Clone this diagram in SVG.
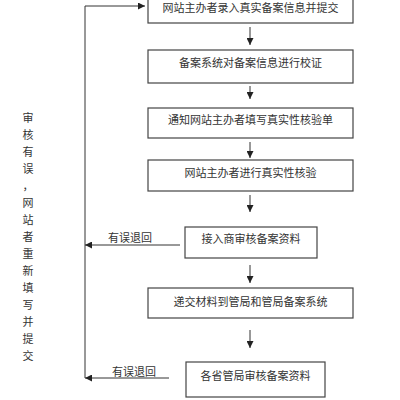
<svg xmlns="http://www.w3.org/2000/svg" width="400" height="400" viewBox="0 0 400 400">
<style>
.box{fill:#fff;stroke:#444;stroke-width:1.2}
.t{font-family:"Noto Sans CJK SC","Noto Sans",sans-serif;font-size:11px;fill:#333;text-anchor:middle}
.c{stroke:#333;stroke-width:1;fill:none}
</style>
<defs>
<marker id="ah" viewBox="0 0 10 10" refX="10" refY="5" markerWidth="7" markerHeight="7" markerUnits="userSpaceOnUse" orient="auto">
<path d="M0,0 L10,5 L0,10 z" fill="#222"/>
</marker>
</defs>
<rect width="400" height="400" fill="#fff"/>
<g id="connectors">
<line class="c" x1="250" y1="27" x2="250" y2="45" marker-end="url(#ah)"/>
<line class="c" x1="250" y1="86" x2="250" y2="99" marker-end="url(#ah)"/>
<line class="c" x1="250" y1="142" x2="250" y2="158" marker-end="url(#ah)"/>
<line class="c" x1="250" y1="195" x2="250" y2="212" marker-end="url(#ah)"/>
<line class="c" x1="250" y1="265" x2="250" y2="283" marker-end="url(#ah)"/>
<line class="c" x1="250" y1="330" x2="250" y2="348" marker-end="url(#ah)"/>
<line class="c" x1="85" y1="6" x2="85" y2="378"/>
<line class="c" x1="85" y1="6" x2="145" y2="6" marker-end="url(#ah)"/>
<line class="c" x1="180" y1="245" x2="85" y2="245" marker-end="url(#ah)"/>
<line class="c" x1="169" y1="378" x2="85" y2="378" marker-end="url(#ah)"/>
<text class="t" x="130" y="242">有误退回</text>
<text class="t" x="134" y="376">有误退回</text>
</g>
<g id="n1"><rect class="box" x="148" y="-12" width="205" height="35"/><text class="t" x="250.5" y="11.5">网站主办者录入真实备案信息并提交</text></g>
<g id="n2"><rect class="box" x="148" y="50" width="205" height="33"/><text class="t" x="250.5" y="67">备案系统对备案信息进行校证</text></g>
<g id="n3"><rect class="box" x="148" y="108" width="205" height="30"/><text class="t" x="250.5" y="124">通知网站主办者填写真实性核验单</text></g>
<g id="n4"><rect class="box" x="148" y="160" width="205" height="31"/><text class="t" x="250.5" y="177">网站主办者进行真实性核验</text></g>
<g id="n5"><rect class="box" x="185" y="227" width="132" height="31"/><text class="t" x="251" y="243">接入商审核备案资料</text></g>
<g id="n6"><rect class="box" x="148" y="288" width="205" height="30"/><text class="t" x="250.5" y="306">递交材料到管局和管局备案系统</text></g>
<g id="n7"><rect class="box" x="186" y="362" width="139" height="35"/><text class="t" x="255.5" y="380">各省管局审核备案资料</text></g>
<g id="side" class="t">
<text x="28" y="122">审</text>
<text x="28" y="139">核</text>
<text x="28" y="156">有</text>
<text x="28" y="173">误</text>
<text x="28" y="190">，</text>
<text x="28" y="207">网</text>
<text x="28" y="224">站</text>
<text x="28" y="241">者</text>
<text x="28" y="258">重</text>
<text x="28" y="275">新</text>
<text x="28" y="292">填</text>
<text x="28" y="309">写</text>
<text x="28" y="326">并</text>
<text x="28" y="343">提</text>
<text x="28" y="360">交</text>
</g>
</svg>
